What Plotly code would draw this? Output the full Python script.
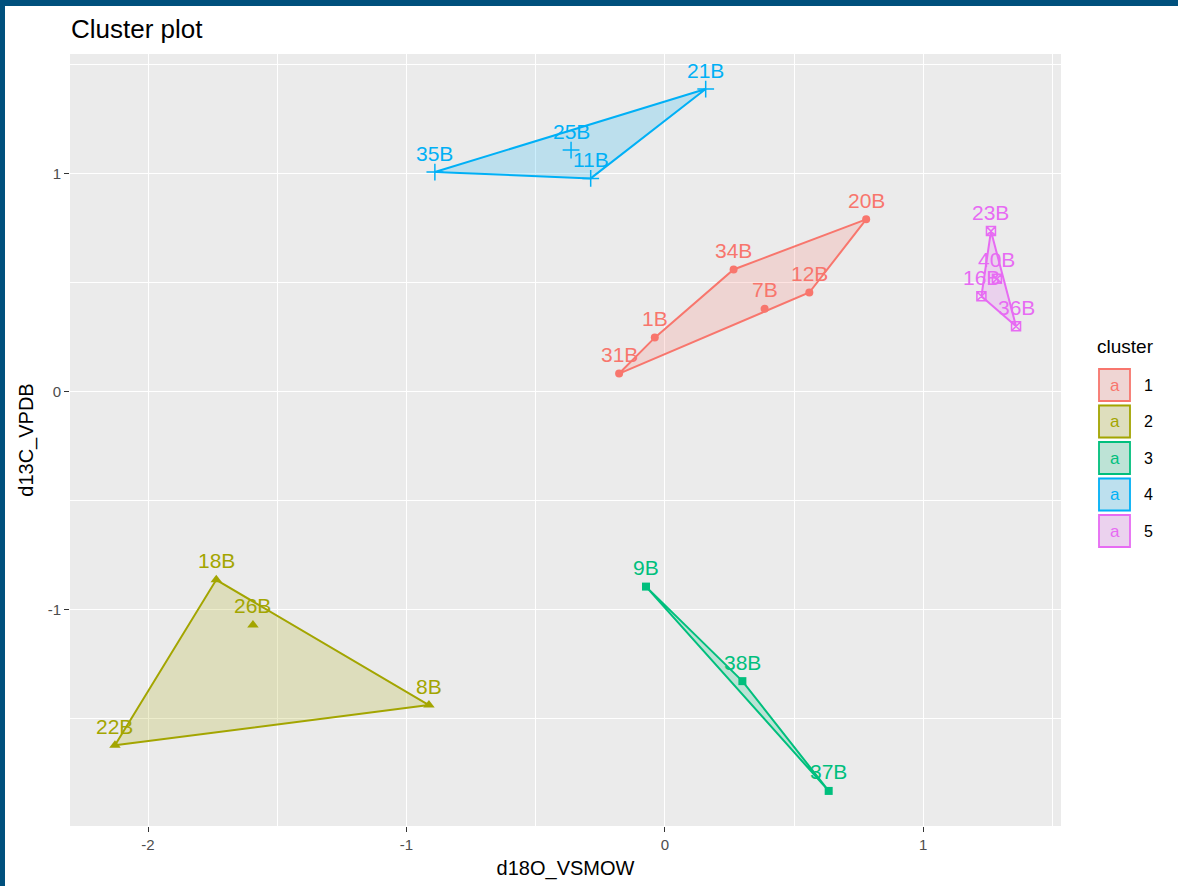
import plotly.graph_objects as go

# ---------------- data ----------------
c1_labels = ["20B", "34B", "12B", "7B", "1B", "31B"]
c1_x = [0.779, 0.266, 0.559, 0.386, -0.039, -0.177]
c1_y = [0.791, 0.561, 0.455, 0.380, 0.248, 0.083]

c2_labels = ["18B", "26B", "8B", "22B"]
c2_x = [-1.736, -1.594, -0.913, -2.128]
c2_y = [-0.864, -1.071, -1.439, -1.623]

c3_labels = ["9B", "38B", "37B"]
c3_x = [-0.073, 0.300, 0.634]
c3_y = [-0.895, -1.329, -1.833]

c4_labels = ["21B", "25B", "11B", "35B"]
c4_x = [0.158, -0.363, -0.287, -0.890]
c4_y = [1.389, 1.109, 0.979, 1.008]

c5_labels = ["23B", "40B", "16B", "36B"]
c5_x = [1.262, 1.285, 1.225, 1.359]
c5_y = [0.737, 0.518, 0.438, 0.300]

cluster_names = ["1", "2", "3", "4", "5"]
x_ticks = [-2, -1, 0, 1]
y_ticks = [-1, 0, 1]

colors = ["#F8766D", "#A3A500", "#00BF7D", "#00B0F6", "#E76BF3"]
symbols = ["circle", "triangle-up", "square", "cross-thin-open", "square-x-open"]
sizes = [8, 10, 8, 12, 9]

clusters = [
    (c1_labels, c1_x, c1_y),
    (c2_labels, c2_x, c2_y),
    (c3_labels, c3_x, c3_y),
    (c4_labels, c4_x, c4_y),
    (c5_labels, c5_x, c5_y),
]


def hull(xs, ys):
    pts = sorted(zip(xs, ys))
    if len(pts) < 3:
        return pts

    def cross(o, a, b):
        return (a[0] - o[0]) * (b[1] - o[1]) - (a[1] - o[1]) * (b[0] - o[0])

    lower = []
    for p in pts:
        while len(lower) >= 2 and cross(lower[-2], lower[-1], p) <= 0:
            lower.pop()
        lower.append(p)
    upper = []
    for p in reversed(pts):
        while len(upper) >= 2 and cross(upper[-2], upper[-1], p) <= 0:
            upper.pop()
        upper.append(p)
    return lower[:-1] + upper[:-1]


def rgba(hexc, a):
    h = hexc.lstrip("#")
    return "rgba(%d,%d,%d,%s)" % (int(h[0:2], 16), int(h[2:4], 16), int(h[4:6], 16), a)


FONT = "Liberation Sans, Arial, Helvetica, sans-serif"
fig = go.Figure()
annotations = []

for i, (labs, xs, ys) in enumerate(clusters):
    col = colors[i]
    h = hull(xs, ys)
    hx = [p[0] for p in h] + [h[0][0]]
    hy = [p[1] for p in h] + [h[0][1]]
    fig.add_trace(go.Scatter(
        x=hx, y=hy, mode="lines", fill="toself",
        fillcolor=rgba(col, 0.2), line=dict(color=col, width=2),
        hoverinfo="skip", showlegend=False))
    mk = dict(color=col, symbol=symbols[i], size=sizes[i])
    if "open" in symbols[i]:
        mk["line"] = dict(color=col, width=1.5)
    fig.add_trace(go.Scatter(
        x=xs, y=ys, mode="markers", marker=mk, text=labs,
        showlegend=False, name=cluster_names[i]))
    for lx, ly, lt in zip(xs, ys, labs):
        annotations.append(dict(
            x=lx, y=ly, xref="x", yref="y", text=lt, showarrow=False,
            yshift=19, font=dict(family=FONT, size=21, color=col),
            xanchor="center", yanchor="middle"))

# ---------------- layout geometry ----------------
W, H = 1178, 886
L, R, T, B = 70, 1061, 54, 826


def px_x(x):
    return (x - L) / (R - L)


def px_y(y):
    return (B - y) / (B - T)


shapes = []
# title
annotations.append(dict(
    x=px_x(69), y=px_y(29), xref="paper", yref="paper", text="Cluster plot",
    showarrow=False, xanchor="left", yanchor="middle",
    font=dict(family=FONT, size=26, color="#000000")))
# custom legend
annotations.append(dict(
    x=px_x(1095), y=px_y(346), xref="paper", yref="paper", text="cluster",
    showarrow=False, xanchor="left", yanchor="middle",
    font=dict(family=FONT, size=19, color="#000000")))
for i, name in enumerate(cluster_names):
    y0 = 368 + i * 36.5
    y1 = y0 + 34
    x0, x1 = 1098, 1131
    shapes.append(dict(type="rect", xref="paper", yref="paper",
                       x0=px_x(x0), x1=px_x(x1), y0=px_y(y1), y1=px_y(y0),
                       fillcolor="#EDEDED", line=dict(width=0), layer="above"))
    shapes.append(dict(type="rect", xref="paper", yref="paper",
                       x0=px_x(x0 + 1), x1=px_x(x1 - 1), y0=px_y(y1 - 1), y1=px_y(y0 + 1),
                       fillcolor=rgba(colors[i], 0.2),
                       line=dict(color=colors[i], width=1.8), layer="above"))
    annotations.append(dict(
        x=px_x((x0 + x1) / 2), y=px_y((y0 + y1) / 2), xref="paper", yref="paper",
        text="a", showarrow=False, xanchor="center", yanchor="middle",
        font=dict(family=FONT, size=17, color=colors[i])))
    annotations.append(dict(
        x=px_x(1142), y=px_y((y0 + y1) / 2), xref="paper", yref="paper",
        text=name, showarrow=False, xanchor="left", yanchor="middle",
        font=dict(family=FONT, size=16, color="#000000")))

# dark blue frame (top and left)
frame = "#00507D"
shapes.append(dict(type="rect", xref="paper", yref="paper",
                   x0=px_x(0), x1=px_x(W), y0=px_y(6), y1=px_y(0),
                   fillcolor=frame, line=dict(width=0), layer="above"))
shapes.append(dict(type="rect", xref="paper", yref="paper",
                   x0=px_x(0), x1=px_x(5), y0=px_y(H), y1=px_y(0),
                   fillcolor=frame, line=dict(width=0), layer="above"))

axis_common = dict(
    showline=False, zeroline=False, ticks="outside", ticklen=5,
    tickcolor="#333333", tickwidth=1,
    tickfont=dict(family=FONT, size=15, color="#4D4D4D"),
    showgrid=True, gridcolor="#FFFFFF", gridwidth=1.3,
)

fig.update_layout(
    width=W, height=H,
    margin=dict(l=L, r=W - R, t=T, b=H - B),
    paper_bgcolor="#FFFFFF", plot_bgcolor="#EBEBEB",
    showlegend=False,
    xaxis=dict(range=[-2.302, 1.533], tickmode="array", tickvals=x_ticks,
               ticktext=[str(v) for v in x_ticks],
               minor=dict(tickmode="array", tickvals=[-1.5, -0.5, 0.5, 1.5],
                          showgrid=True, gridcolor="#FFFFFF", gridwidth=0.6, ticks=""),
               title=dict(text="d18O_VSMOW", standoff=8,
                          font=dict(family=FONT, size=20, color="#000000")),
               **axis_common),
    yaxis=dict(range=[-1.994, 1.55], tickmode="array", tickvals=y_ticks,
               ticktext=[str(v) for v in y_ticks],
               minor=dict(tickmode="array", tickvals=[-1.5, -0.5, 0.5, 1.5],
                          showgrid=True, gridcolor="#FFFFFF", gridwidth=0.6, ticks=""),
               title=dict(text="d13C_VPDB", standoff=8,
                          font=dict(family=FONT, size=20, color="#000000")),
               **axis_common),
    annotations=annotations,
    shapes=shapes,
)

fig.write_html("out.html",
               config={"displayModeBar": False},
               post_script="document.body.style.margin='0';document.body.style.padding='0';document.body.style.overflow='hidden';")
